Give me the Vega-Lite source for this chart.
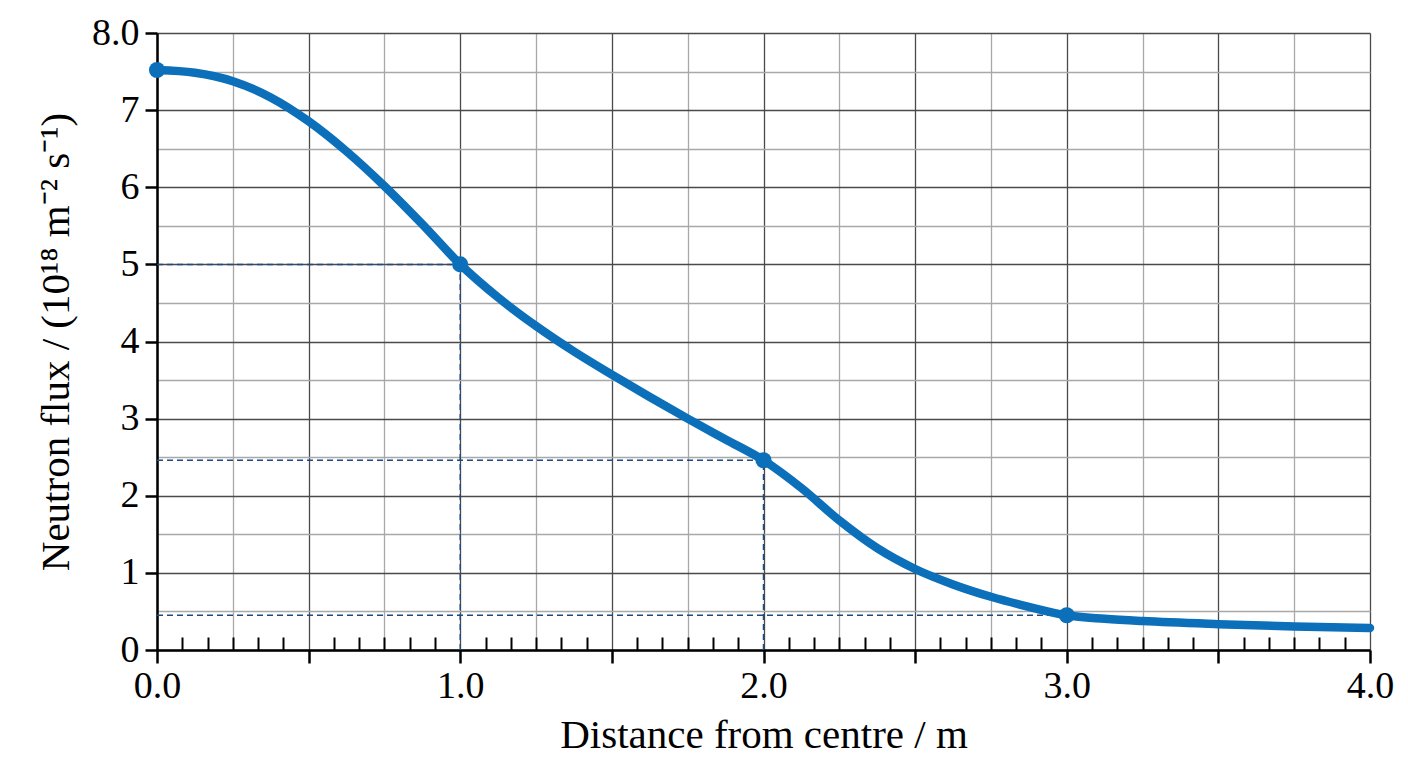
{
  "$schema": "https://vega.github.io/schema/vega-lite/v6.json",
  "width": 1213,
  "height": 617,
  "autosize": "none",
  "padding": {"left": 157, "top": 33, "right": 38, "bottom": 118},
  "background": "white",
  "config": {
    "view": {"stroke": null},
    "font": "Liberation Serif",
    "axis": {
      "labelFont": "Liberation Serif",
      "titleFont": "Liberation Serif",
      "labelColor": "black",
      "titleColor": "black",
      "labelFontWeight": "normal",
      "titleFontWeight": "normal"
    }
  },
  "datasets": {
    "curve": [
      {"d": 0.0, "flux": 7.52},
      {"d": 0.125, "flux": 7.485},
      {"d": 0.25, "flux": 7.375},
      {"d": 0.375, "flux": 7.165},
      {"d": 0.5, "flux": 6.855},
      {"d": 0.625, "flux": 6.465},
      {"d": 0.75, "flux": 6.015},
      {"d": 0.875, "flux": 5.52},
      {"d": 1.0, "flux": 5.0},
      {"d": 1.125, "flux": 4.57},
      {"d": 1.25, "flux": 4.2},
      {"d": 1.375, "flux": 3.87},
      {"d": 1.5, "flux": 3.57},
      {"d": 1.625, "flux": 3.28},
      {"d": 1.75, "flux": 3.0},
      {"d": 1.875, "flux": 2.73},
      {"d": 2.0, "flux": 2.46},
      {"d": 2.125, "flux": 2.1},
      {"d": 2.25, "flux": 1.68},
      {"d": 2.375, "flux": 1.32},
      {"d": 2.5, "flux": 1.05},
      {"d": 2.625, "flux": 0.85},
      {"d": 2.75, "flux": 0.69},
      {"d": 2.875, "flux": 0.56},
      {"d": 3.0, "flux": 0.45},
      {"d": 3.125, "flux": 0.405},
      {"d": 3.25, "flux": 0.375},
      {"d": 3.5, "flux": 0.335},
      {"d": 3.75, "flux": 0.305},
      {"d": 4.0, "flux": 0.285}
    ],
    "marked": [
      {"d": 0, "flux": 7.52},
      {"d": 1, "flux": 5.0},
      {"d": 2, "flux": 2.46},
      {"d": 3, "flux": 0.45}
    ],
    "guides": [
      {"d": 0, "d2": 1, "flux": 5.0, "flux2": 5.0},
      {"d": 0, "d2": 2, "flux": 2.46, "flux2": 2.46},
      {"d": 0, "d2": 3, "flux": 0.45, "flux2": 0.45},
      {"d": 1, "d2": 1, "flux": 0, "flux2": 5.0},
      {"d": 2, "d2": 2, "flux": 0, "flux2": 2.46}
    ]
  },
  "resolve": {"axis": {"x": "independent"}},
  "encoding": {
    "y": {
      "field": "flux",
      "type": "quantitative",
      "scale": {"domain": [0, 8], "nice": false},
      "axis": {
        "title": "Neutron flux / (10¹⁸ m⁻² s⁻¹)",
        "titleFontSize": 41,
        "titlePadding": 14,
        "values": [0, 0.5, 1, 1.5, 2, 2.5, 3, 3.5, 4, 4.5, 5, 5.5, 6, 6.5, 7, 7.5, 8],
        "labelExpr": "datum.value === 8 ? '8.0' : (datum.value % 1 === 0 ? format(datum.value, 'd') : '')",
        "labelOverlap": false,
        "labelFontSize": 38,
        "labelPadding": 6,
        "labelFlush": false,
        "domainColor": "black",
        "domainWidth": 2.5,
        "tickSize": 12,
        "tickWidth": 2.5,
        "tickColor": {"condition": {"test": "datum.value % 1 === 0", "value": "black"}, "value": "transparent"},
        "grid": true,
        "gridColor": {"condition": {"test": "datum.value % 1 === 0", "value": "#4a4a4a"}, "value": "#a8a8a8"},
        "gridWidth": 1.3
      }
    }
  },
  "layer": [
    {
      "data": {"name": "guides"},
      "mark": {"type": "rule", "color": "#1d4a80", "strokeWidth": 1.5, "strokeDash": [6, 4]},
      "encoding": {
        "x": {
          "field": "d",
          "type": "quantitative",
          "scale": {"domain": [0, 4], "nice": false},
          "axis": {
            "title": "Distance from centre / m",
            "titleFontSize": 41,
            "titlePadding": 10,
            "values": [0, 0.25, 0.5, 0.75, 1, 1.25, 1.5, 1.75, 2, 2.25, 2.5, 2.75, 3, 3.25, 3.5, 3.75, 4],
            "labelExpr": "datum.value % 1 === 0 ? format(datum.value, '.1f') : ''",
            "labelOverlap": false,
            "labelFontSize": 38,
            "labelPadding": 4,
            "labelFlush": false,
            "domainColor": "black",
            "domainWidth": 2.5,
            "tickSize": 13,
            "tickWidth": 2.5,
            "tickColor": {"condition": {"test": "datum.value % 0.5 === 0", "value": "black"}, "value": "transparent"},
            "grid": true,
            "gridColor": {"condition": {"test": "datum.value % 0.5 === 0", "value": "#4a4a4a"}, "value": "#a8a8a8"},
            "gridWidth": 1.3
          }
        },
        "x2": {"field": "d2"},
        "y2": {"field": "flux2"}
      }
    },
    {
      "data": {"name": "curve"},
      "mark": {"type": "line", "color": "#0b6fba", "strokeWidth": 8.5, "interpolate": "monotone", "strokeCap": "round"},
      "encoding": {
        "x": {"field": "d", "type": "quantitative", "axis": null}
      }
    },
    {
      "data": {"name": "marked"},
      "mark": {"type": "point", "filled": true, "color": "#0b6fba", "size": 260, "opacity": 1},
      "encoding": {
        "x": {
          "field": "d",
          "type": "quantitative",
          "axis": {
            "orient": "bottom",
            "title": null,
            "labels": false,
            "domain": false,
            "grid": false,
            "tickSize": -13,
            "tickWidth": 2,
            "tickColor": "black",
            "values": [0.0833, 0.1667, 0.25, 0.3333, 0.4167, 0.5833, 0.6667, 0.75, 0.8333, 0.9167,
                       1.0833, 1.1667, 1.25, 1.3333, 1.4167, 1.5833, 1.6667, 1.75, 1.8333, 1.9167,
                       2.0833, 2.1667, 2.25, 2.3333, 2.4167, 2.5833, 2.6667, 2.75, 2.8333, 2.9167,
                       3.0833, 3.1667, 3.25, 3.3333, 3.4167, 3.5833, 3.6667, 3.75, 3.8333, 3.9167]
          }
        }
      }
    }
  ]
}
